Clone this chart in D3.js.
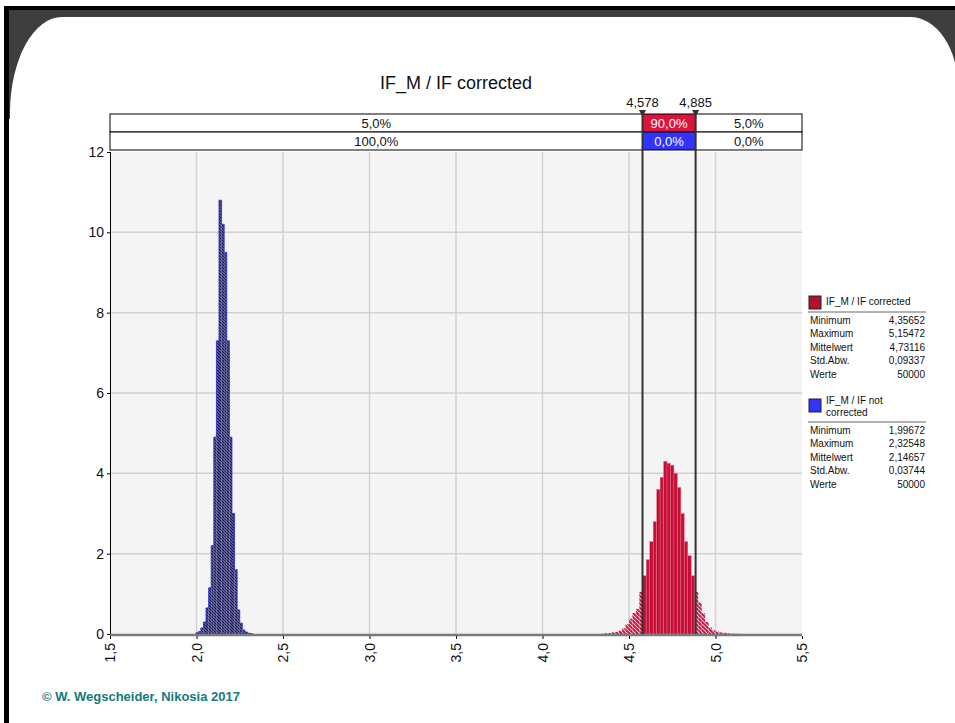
<!DOCTYPE html>
<html>
<head>
<meta charset="utf-8">
<script src="https://cdn.jsdelivr.net/npm/d3@7"></script>
<style>
    body { margin: 0; background: #fff; }
    svg { display: block; font-family: Tahoma, "Liberation Sans", Arial, sans-serif; }
</style>
</head>
<body>
<div id="chart"></div>
<script>
// histogram bins (density per unit)
const blueStart = 1.995;
const blueWidth = 0.015;
const blueValues = [0.03, 0.06, 0.15, 0.3, 0.65, 1.15, 2.2, 4.9, 7.3, 10.8, 10.2, 9.5,
    7.3, 4.9, 3.0, 1.6, 0.6, 0.27, 0.1, 0.05, 0.02, 0.01];

const redStart = 4.34;
const redWidth = 0.02;
const redValues = [0.01, 0.02, 0.02, 0.04, 0.05, 0.08, 0.14, 0.24, 0.38, 0.52, 0.62, 1.05,
    1.45, 1.85, 2.3, 2.8, 3.6, 3.9, 4.3, 4.25, 4.2, 4.0, 3.65, 3.0, 2.3, 1.95, 1.45,
    1.05, 0.78, 0.52, 0.3, 0.16, 0.09, 0.06, 0.04, 0.03, 0.02, 0.01, 0.01, 0.005, 0.003];

const lower = 4.578;
const upper = 4.885;
const lowerLabel = "4,578";
const upperLabel = "4,885";
const correctedPct = ["5,0%", "90,0%", "5,0%"];
const notCorrectedPct = ["100,0%", "0,0%", "0,0%"];

const xTicks = [1.5, 2.0, 2.5, 3.0, 3.5, 4.0, 4.5, 5.0, 5.5];
const yTicks = [0, 2, 4, 6, 8, 10, 12];

const statLabels = ["Minimum", "Maximum", "Mittelwert", "Std.Abw.", "Werte"];
const correctedStats = ["4,35652", "5,15472", "4,73116", "0,09337", "50000"];
const notCorrectedStats = ["1,99672", "2,32548", "2,14657", "0,03744", "50000"];

const W = 955, H = 723;
const svg = d3.select("#chart").append("svg").attr("width", W).attr("height", H);

// frame with rounded top corners
svg.append("rect").attr("x", 0).attr("y", 0).attr("width", W).attr("height", H).attr("fill", "#fff");
svg.append("rect").attr("x", 9).attr("y", 9).attr("width", W - 9).attr("height", 110).attr("fill", "#3e3e3e");
svg.append("path")
    .attr("d", `M10,${H} L10,112 A52,96 0 0 1 62,17 L910,17 A48,70 0 0 1 958,87 L958,${H} Z`)
    .attr("fill", "#fff");
svg.append("rect").attr("x", 4).attr("y", 6).attr("width", W).attr("height", 4).attr("fill", "#000");
svg.append("rect").attr("x", 4).attr("y", 6).attr("width", 5).attr("height", H).attr("fill", "#000");

const defs = svg.append("defs");
function hatch(id, bg, fg, size, sw) {
    const p = defs.append("pattern").attr("id", id)
        .attr("patternUnits", "userSpaceOnUse").attr("width", size).attr("height", size);
    p.append("rect").attr("width", size).attr("height", size).attr("fill", bg);
    p.append("path")
        .attr("d", `M-1,-1 L${size + 1},${size + 1} M${size - 1},-1 L${size + 1},1 M-1,${size - 1} L1,${size + 1}`)
        .attr("stroke", fg).attr("stroke-width", sw);
}
hatch("hatchBlue", "#e8e8f4", "#14145a", 3, 1.6);
hatch("hatchRed", "#ffffff", "#d41443", 4, 2.2);

const redGrad = defs.append("linearGradient").attr("id", "redGrad").attr("x1", 0).attr("x2", 1).attr("y1", 0).attr("y2", 0);
redGrad.append("stop").attr("offset", "0%").attr("stop-color", "#b00c30");
redGrad.append("stop").attr("offset", "100%").attr("stop-color", "#dc1440");

const x = d3.scaleLinear().domain([1.5, 5.5]).range([110, 802]);
const y = d3.scaleLinear().domain([0, 12]).range([634, 152]);

// title
svg.append("text").attr("x", 456).attr("y", 89).attr("text-anchor", "middle")
    .style("font-size", "18px").attr("fill", "#111").text("IF_M / IF corrected");

// plot background + grid
svg.append("rect").attr("x", x(1.5)).attr("y", y(12)).attr("width", x(5.5) - x(1.5))
    .attr("height", y(0) - y(12)).attr("fill", "#f4f4f4");
svg.append("g").selectAll("line").data(xTicks.slice(1, -1)).enter().append("line")
    .attr("x1", d => x(d)).attr("x2", d => x(d)).attr("y1", y(12)).attr("y2", y(0))
    .attr("stroke", "#d2d2d2").attr("stroke-width", 1.5);
svg.append("g").selectAll("line").data(yTicks.slice(1, -1)).enter().append("line")
    .attr("x1", x(1.5)).attr("x2", x(5.5)).attr("y1", d => y(d)).attr("y2", d => y(d))
    .attr("stroke", "#d2d2d2").attr("stroke-width", 1.5);

// bars split at the interval limits
function segments(start, width, values) {
    const out = [];
    values.forEach((v, i) => {
        const x0 = start + i * width, x1 = x0 + width;
        [[x0, Math.min(x1, lower), false], [Math.max(x0, lower), Math.min(x1, upper), true], [Math.max(x0, upper), x1, false]]
            .forEach(([a, b, inside]) => { if (b > a) out.push({ a, b, v, inside }); });
    });
    return out;
}

const blueSegs = segments(blueStart, blueWidth, blueValues);
svg.append("g").selectAll("rect").data(blueSegs).enter().append("rect")
    .attr("x", d => x(d.a)).attr("width", d => x(d.b) - x(d.a))
    .attr("y", d => y(d.v)).attr("height", d => y(0) - y(d.v))
    .attr("fill", d => d.inside ? "#3333ff" : "url(#hatchBlue)");
svg.append("path")
    .attr("d", d3.line().curve(d3.curveStepAfter)
        .x((d, i) => x(blueStart + i * blueWidth)).y(d => y(d))(blueValues.concat([0])))
    .attr("fill", "none").attr("stroke", "#2a2ad8").attr("stroke-width", 0.8);

const redSegs = segments(redStart, redWidth, redValues);
svg.append("g").selectAll("rect").data(redSegs).enter().append("rect")
    .attr("x", d => x(d.a)).attr("width", d => x(d.b) - x(d.a))
    .attr("y", d => y(d.v)).attr("height", d => y(0) - y(d.v))
    .attr("fill", d => d.inside ? "url(#redGrad)" : "url(#hatchRed)")
    .attr("stroke", d => d.inside ? "#e87890" : "none").attr("stroke-width", 0.4);

// axes
svg.append("line").attr("x1", x(1.5)).attr("x2", x(5.5)).attr("y1", y(0) + 1).attr("y2", y(0) + 1)
    .attr("stroke", "#7a7a7a").attr("stroke-width", 2.5);
svg.append("line").attr("x1", x(1.5) + 0.5).attr("x2", x(1.5) + 0.5).attr("y1", y(12)).attr("y2", y(0))
    .attr("stroke", "#000").attr("stroke-width", 1);

const yAxis = svg.append("g").attr("transform", `translate(${x(1.5)},0)`)
    .call(d3.axisLeft(y).tickValues(yTicks).tickSize(3).tickFormat(d3.format("d")));
yAxis.select(".domain").remove();
yAxis.selectAll("text").style("font-size", "14px").attr("fill", "#111").attr("x", -6);

const xAxis = svg.append("g").attr("transform", `translate(0,${y(0) + 2})`)
    .call(d3.axisBottom(x).tickValues(xTicks).tickSize(3).tickFormat(d => d3.format(".1f")(d).replace(".", ",")));
xAxis.select(".domain").remove();
xAxis.selectAll("text")
    .style("font-size", "14px").attr("fill", "#111")
    .attr("text-anchor", "end").attr("transform", "rotate(-90)")
    .attr("x", -7).attr("y", 0).attr("dy", "0.35em");

// interval band
const bandX = [x(1.5), x(lower), x(upper), x(5.5)];
const bandRows = [
    { y0: 114, pct: correctedPct, mid: "#dc143c" },
    { y0: 132, pct: notCorrectedPct, mid: "#3333ff" }
];
bandRows.forEach(row => {
    const g = svg.append("g");
    g.selectAll("rect").data(row.pct).enter().append("rect")
        .attr("x", (d, i) => bandX[i]).attr("y", row.y0)
        .attr("width", (d, i) => bandX[i + 1] - bandX[i]).attr("height", 18)
        .attr("fill", (d, i) => i === 1 ? row.mid : "#fff")
        .attr("stroke", "#000").attr("stroke-width", 1);
    g.selectAll("text").data(row.pct).enter().append("text")
        .attr("x", (d, i) => (bandX[i] + bandX[i + 1]) / 2).attr("y", row.y0 + 14)
        .attr("text-anchor", "middle").style("font-size", "13px")
        .attr("fill", (d, i) => i === 1 ? "#fff" : "#111").text(d => d);
});

// limit lines, markers, labels
[[lower, lowerLabel], [upper, upperLabel]].forEach(([v, label]) => {
    svg.append("line").attr("x1", x(v)).attr("x2", x(v)).attr("y1", 114).attr("y2", y(0))
        .attr("stroke", "#333").attr("stroke-width", 2);
    svg.append("path").attr("d", `M${x(v) - 3.5},110 L${x(v) + 3.5},110 L${x(v)},117 Z`).attr("fill", "#333");
    svg.append("text").attr("x", x(v)).attr("y", 107).attr("text-anchor", "middle")
        .style("font-size", "13px").attr("fill", "#111").text(label);
});

// legend
function legendBlock(top, color, nameLines, nameBase, lineY, stats) {
    const g = svg.append("g").style("font-size", "10px").attr("fill", "#111");
    g.append("rect").attr("x", 809).attr("y", top).attr("width", 12).attr("height", 13)
        .attr("fill", color).attr("stroke", "#222");
    nameLines.forEach((t, i) => g.append("text").attr("x", 826).attr("y", nameBase + i * 11.5).text(t));
    g.append("line").attr("x1", 808).attr("x2", 926).attr("y1", lineY).attr("y2", lineY)
        .attr("stroke", "#999").attr("stroke-width", 1.5);
    statLabels.forEach((t, i) => {
        const ty = lineY + 12 + i * 13.4;
        g.append("text").attr("x", 810).attr("y", ty).text(t);
        g.append("text").attr("x", 925).attr("y", ty).attr("text-anchor", "end").text(stats[i]);
    });
}
legendBlock(296, "#b3102e", ["IF_M / IF corrected"], 305, 312, correctedStats);
legendBlock(399, "#3333ff", ["IF_M / IF not", "corrected"], 404, 422, notCorrectedStats);

// footer
svg.append("text").attr("x", 42).attr("y", 701).style("font-size", "13px").style("font-weight", "bold")
    .attr("fill", "#157a7a").text("© W. Wegscheider, Nikosia 2017");
</script>
</body>
</html>
